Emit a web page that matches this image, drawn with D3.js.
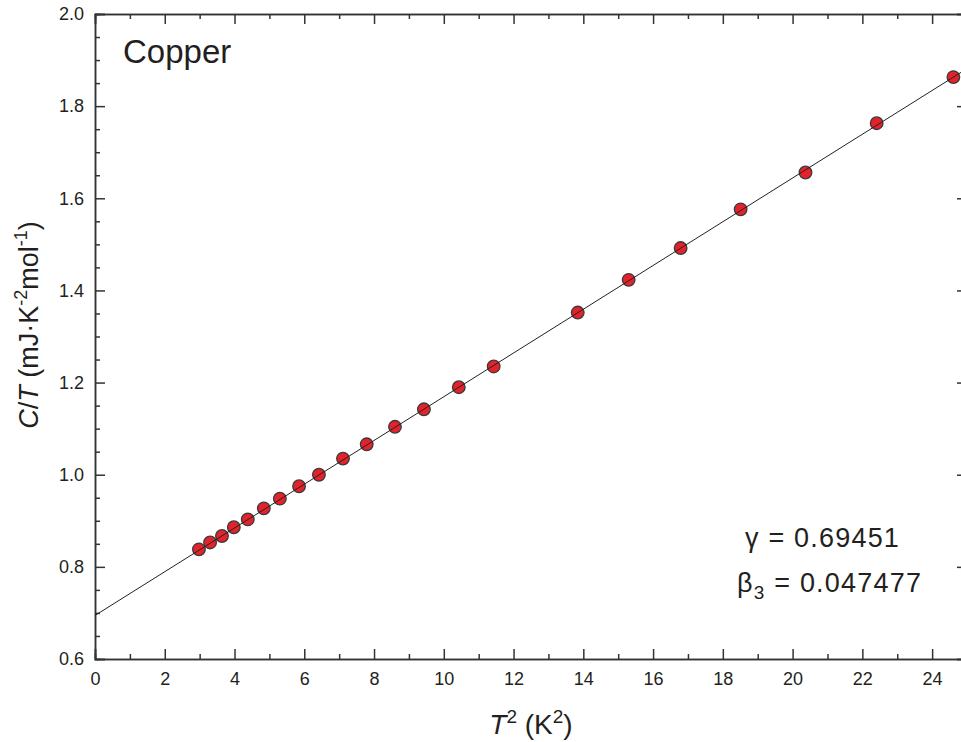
<!DOCTYPE html>
<html>
<head>
<meta charset="utf-8">
<script src="https://cdn.jsdelivr.net/npm/d3@7"></script>
<style>
  body { margin: 0; background: #fff; }
  svg text { font-family: "Liberation Sans", Arial, sans-serif; fill: #231f20; }
</style>
</head>
<body>
<div id="chart"></div>
<script>
// data
const tSquared = [2.98, 3.30, 3.64, 3.98, 4.38, 4.84, 5.30, 5.85, 6.42, 7.11, 7.79, 8.60, 9.43, 10.43, 11.43, 13.84, 15.30, 16.79, 18.51, 20.37, 22.41, 24.61];
const cOverT = [0.838, 0.853, 0.867, 0.886, 0.903, 0.927, 0.948, 0.975, 1.000, 1.035, 1.066, 1.104, 1.142, 1.190, 1.235, 1.352, 1.423, 1.492, 1.576, 1.656, 1.763, 1.863];
const gamma = 0.69451;
const beta3 = 0.047477;
const xTicks = [0, 2, 4, 6, 8, 10, 12, 14, 16, 18, 20, 22, 24];
const yTicks = [0.6, 0.8, 1.0, 1.2, 1.4, 1.6, 1.8, 2.0];

const width = 961;
const height = 742;
const margin = {top: 14, right: -6, bottom: 83, left: 95};

const svg = d3.select('#chart')
    .append('svg')
    .attr('width', width)
    .attr('height', height);

const x = d3.scaleLinear().domain([0, 25]).range([margin.left, width - margin.right]);
const y = d3.scaleLinear().domain([0.6, 2.0]).range([height - margin.bottom, margin.top]);

const points = tSquared.map((t, i) => ({x: t, y: cOverT[i]}));

const axisColor = '#333';
const minorX = d3.range(1, 25, 2);
const minorY = d3.range(0.65, 2.0, 0.05).filter(v => Math.abs(Math.round(v * 5) - v * 5) > 0.01);

function styleAxis(g) {
    g.select('.domain').attr('stroke', axisColor).attr('stroke-width', 1.5);
    g.selectAll('.tick line').attr('stroke', axisColor).attr('stroke-width', 1.5);
    g.selectAll('.tick text').attr('font-size', '18px').attr('fill', '#231f20');
}

// bottom
svg.append('g')
    .attr('transform', `translate(0, ${y(0.6)})`)
    .call(d3.axisBottom(x).tickValues(xTicks).tickSize(-10).tickPadding(13).tickFormat(d3.format('d')))
    .call(styleAxis);
svg.append('g')
    .attr('transform', `translate(0, ${y(0.6)})`)
    .call(d3.axisBottom(x).tickValues(minorX).tickSize(-5).tickFormat(''))
    .call(styleAxis);

// top
svg.append('g')
    .attr('transform', `translate(0, ${y(2.0)})`)
    .call(d3.axisTop(x).tickValues(xTicks).tickSize(-10).tickFormat(''))
    .call(styleAxis);
svg.append('g')
    .attr('transform', `translate(0, ${y(2.0)})`)
    .call(d3.axisTop(x).tickValues(minorX).tickSize(-5).tickFormat(''))
    .call(styleAxis);

// left
svg.append('g')
    .attr('transform', `translate(${x(0)}, 0)`)
    .call(d3.axisLeft(y).tickValues(yTicks).tickSize(-10).tickPadding(11).tickFormat(d3.format('.1f')))
    .call(styleAxis);
svg.append('g')
    .attr('transform', `translate(${x(0)}, 0)`)
    .call(d3.axisLeft(y).tickValues(minorY).tickSize(-5).tickFormat(''))
    .call(styleAxis);

// right
svg.append('g')
    .attr('transform', `translate(${x(25)}, 0)`)
    .call(d3.axisRight(y).tickValues(yTicks).tickSize(-10).tickFormat(''))
    .call(styleAxis);
svg.append('g')
    .attr('transform', `translate(${x(25)}, 0)`)
    .call(d3.axisRight(y).tickValues(minorY).tickSize(-5).tickFormat(''))
    .call(styleAxis);

// markers
svg.append('g')
    .selectAll('circle')
    .data(points)
    .enter()
    .append('circle')
    .attr('cx', d => x(d.x))
    .attr('cy', d => y(d.y))
    .attr('r', 6.3)
    .attr('fill', '#e3222b')
    .attr('stroke', '#3a3a3a')
    .attr('stroke-width', 1.3);

// fit line over the markers
const fit = [0, 25].map(t => ({x: t, y: gamma + beta3 * t}));
svg.append('path')
    .datum(fit)
    .attr('d', d3.line().x(d => x(d.x)).y(d => y(d.y)))
    .attr('fill', 'none')
    .attr('stroke', '#222')
    .attr('stroke-width', 1);

// labels
svg.append('text')
    .attr('x', 123)
    .attr('y', 63)
    .attr('font-size', '33px')
    .text('Copper');

const xTitle = svg.append('text')
    .attr('x', (x(0) + x(25)) / 2)
    .attr('y', 734)
    .attr('text-anchor', 'middle')
    .attr('font-size', '28px');
xTitle.append('tspan').attr('font-style', 'italic').text('T');
xTitle.append('tspan').attr('font-size', '19px').attr('dy', -11).text('2');
xTitle.append('tspan').attr('dy', 11).text(' (K');
xTitle.append('tspan').attr('font-size', '19px').attr('dy', -11).text('2');
xTitle.append('tspan').attr('dy', 11).text(')');

const yTitle = svg.append('text')
    .attr('transform', `translate(38, 325) rotate(-90)`)
    .attr('text-anchor', 'middle')
    .attr('font-size', '27px');
yTitle.append('tspan').attr('font-style', 'italic').text('C');
yTitle.append('tspan').text('/');
yTitle.append('tspan').attr('font-style', 'italic').text('T');
yTitle.append('tspan').text(' (mJ\u00b7K');
yTitle.append('tspan').attr('font-size', '18px').attr('dy', -11).text('-2');
yTitle.append('tspan').attr('dy', 11).text('mol');
yTitle.append('tspan').attr('font-size', '18px').attr('dy', -11).text('-1');
yTitle.append('tspan').attr('dy', 11).text(')');

svg.append('text')
    .attr('x', 745)
    .attr('y', 547)
    .attr('font-size', '27px')
    .attr('letter-spacing', '1.2px')
    .text(`\u03b3 = ${gamma}`);

const betaText = svg.append('text')
    .attr('x', 737)
    .attr('y', 592)
    .attr('font-size', '27px')
    .attr('letter-spacing', '1.2px');
betaText.append('tspan').text('\u03b2');
betaText.append('tspan').attr('font-size', '19px').attr('dy', 7).text('3');
betaText.append('tspan').attr('dy', -7).text(` = ${beta3}`);
</script>
</body>
</html>
